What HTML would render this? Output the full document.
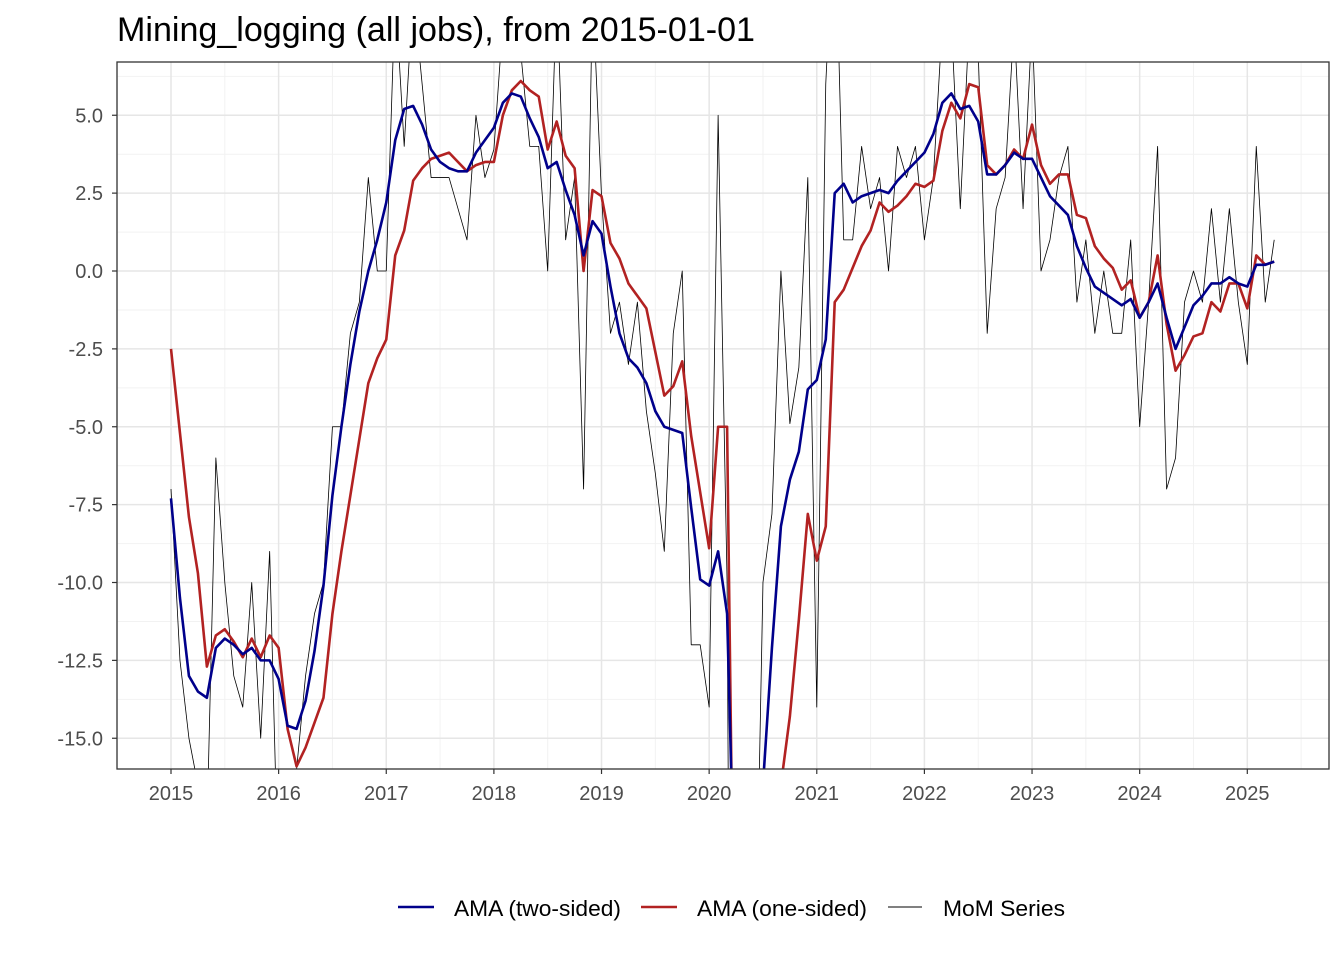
<!DOCTYPE html>
<html><head><meta charset="utf-8"><style>
html,body{margin:0;padding:0;background:#fff;width:1344px;height:960px;overflow:hidden;position:relative;}
svg{display:block;position:absolute;left:0;top:0;font-family:"Liberation Sans",Arial,sans-serif;}
</style></head><body>
<svg id="chart" width="1344" height="960" viewBox="0 0 1344 960">
<defs><clipPath id="panelClip"><rect x="117" y="62" width="1212" height="707"/></clipPath></defs>
<rect x="0" y="0" width="1344" height="960" fill="#fff"/>
<text x="117" y="41" font-size="34" textLength="638" lengthAdjust="spacingAndGlyphs" fill="#000">Mining_logging (all jobs), from 2015-01-01</text>
<g id="grid"></g>
<g id="series" clip-path="url(#panelClip)"></g>
<rect x="117" y="62" width="1212" height="707" fill="none" stroke="#333" stroke-width="1.3"/>
<g id="axes"></g>
<g>
  <line x1="398" y1="907" x2="434" y2="907" stroke="#00008B" stroke-width="2.5"/>
  <text x="454" y="916" font-size="22" textLength="167" lengthAdjust="spacingAndGlyphs" fill="#000">AMA (two-sided)</text>
  <line x1="641" y1="907" x2="677" y2="907" stroke="#B22222" stroke-width="2.5"/>
  <text x="697" y="916" font-size="22" textLength="170" lengthAdjust="spacingAndGlyphs" fill="#000">AMA (one-sided)</text>
  <line x1="888" y1="907" x2="922" y2="907" stroke="#000" stroke-width="1"/>
  <text x="943" y="916" font-size="22" textLength="122" lengthAdjust="spacingAndGlyphs" fill="#000">MoM Series</text>
</g>
</svg>
<script>
const yTicks = [5.0, 2.5, 0.0, -2.5, -5.0, -7.5, -10.0, -12.5, -15.0];
const yTickLabels = ["5.0", "2.5", "0.0", "-2.5", "-5.0", "-7.5", "-10.0", "-12.5", "-15.0"];
const xYears = [2015, 2016, 2017, 2018, 2019, 2020, 2021, 2022, 2023, 2024, 2025];
const startYear = 2015;
const twoSided = [
 -7.3,-10.5,-13.0,-13.5,-13.7,-12.1,-11.8,-12.0,-12.3,-12.1,-12.5,-12.5,
 -13.1,-14.6,-14.7,-13.8,-12.2,-10.1,-7.2,-5.0,-3.0,-1.3,0.0,1.0,
 2.2,4.2,5.2,5.3,4.7,3.9,3.5,3.3,3.2,3.2,3.8,4.2,
 4.6,5.4,5.7,5.6,4.9,4.3,3.3,3.5,2.6,1.8,0.5,1.6,
 1.2,-0.5,-2.0,-2.8,-3.1,-3.6,-4.5,-5.0,-5.1,-5.2,-7.6,-9.9,
 -10.1,-9.0,-11.0,-22,-25,-22,-16.5,-12.1,-8.2,-6.7,-5.8,-3.8,
 -3.5,-2.2,2.5,2.8,2.2,2.4,2.5,2.6,2.5,2.9,3.2,3.5,
 3.8,4.4,5.4,5.7,5.2,5.3,4.8,3.1,3.1,3.4,3.8,3.6,
 3.6,3.0,2.4,2.1,1.8,0.8,0.1,-0.5,-0.7,-0.9,-1.1,-0.9,
 -1.5,-1.0,-0.4,-1.5,-2.5,-1.8,-1.1,-0.8,-0.4,-0.4,-0.2,-0.4,
 -0.5,0.2,0.2,0.3];
const oneSided = [
 -2.5,-5.2,-7.9,-9.7,-12.7,-11.7,-11.5,-11.9,-12.4,-11.8,-12.4,-11.7,
 -12.1,-14.7,-15.9,-15.3,-14.5,-13.7,-11.0,-9.0,-7.2,-5.4,-3.6,-2.8,
 -2.2,0.5,1.3,2.9,3.3,3.6,3.7,3.8,3.5,3.2,3.4,3.5,
 3.5,5.0,5.8,6.1,5.8,5.6,3.9,4.8,3.7,3.3,0.0,2.6,
 2.4,0.9,0.4,-0.4,-0.8,-1.2,-2.6,-4.0,-3.7,-2.9,-5.3,-7.1,
 -8.9,-5.0,-5.0,-28,-30,-28,-25,-21,-16.5,-14.3,-11.2,-7.8,
 -9.3,-8.2,-1.0,-0.6,0.1,0.8,1.3,2.2,1.9,2.1,2.4,2.8,
 2.7,2.9,4.5,5.4,4.9,6.0,5.9,3.4,3.1,3.4,3.9,3.6,
 4.7,3.4,2.8,3.1,3.1,1.8,1.7,0.8,0.4,0.1,-0.6,-0.3,
 -1.5,-1.0,0.5,-1.7,-3.2,-2.7,-2.1,-2.0,-1.0,-1.3,-0.4,-0.4,
 -1.2,0.5,0.2,0.3];
const momSeries = [
 -7,-12.5,-15,-16.5,-18,-6,-10,-13,-14,-10,-15,-9,
 -20,-18,-16,-13,-11,-10,-5,-5,-2,-1,3,0,
 0,9,4,9,6,3,3,3,2,1,5,3,
 3.9,8,10,7,4,4,0,9,1,3,-7,9,
 2.4,-2,-1,-3,-1,-4.5,-6.5,-9,-2,0,-12,-12,
 -14,5,-10,-60,-40,-25,-10,-7.8,0,-4.9,-3.1,3,
 -14,6,12,1,1,4,2,3,0,4,3,4,
 1,3,8,8,2,8,7,-2,2,3,8,2,
 8,0,1,3,4,-1,1,-2,0,-2,-2,1,
 -5,-1,4,-7,-6,-1,0,-1,2,-1,2,-1,
 -3,4,-1,1];

const X0 = 171, PX_PER_YEAR = 107.63;
function xScale(t){ return X0 + (t - startYear) * PX_PER_YEAR; }
function yScale(v){ return 271 - v * 31.15; }
function monthT(i){ return startYear + i / 12; }

const NS = "http://www.w3.org/2000/svg";
const grid = document.getElementById('grid');
const axes = document.getElementById('axes');
const series = document.getElementById('series');
function mk(tag, attrs, parent){ const e = document.createElementNS(NS, tag); for (const k in attrs) e.setAttribute(k, attrs[k]); parent.appendChild(e); return e; }

for (let i = 0; i < yTicks.length - 1; i++) {
  const v = (yTicks[i] + yTicks[i+1]) / 2;
  const l = mk('line', {x1:117, x2:1329, y1:yScale(v), y2:yScale(v), stroke:'#f2f2f2', 'stroke-width':1}, grid);
  
  
}
const topMinor = mk('line', {x1:117, x2:1329, y1:yScale(6.25), y2:yScale(6.25), stroke:'#f2f2f2', 'stroke-width':1}, grid);


for (let i = -1; i < xYears.length; i++) {
  const t = (i < 0 ? xYears[0] - 1 : xYears[i]) + 0.5;
  const l = mk('line', {x1:xScale(t), x2:xScale(t), y1:62, y2:769, stroke:'#f2f2f2', 'stroke-width':1}, grid);
  
  
}
yTicks.forEach((v, i) => {
  const y = yScale(v);
  const l = mk('line', {x1:117, x2:1329, y1:y, y2:y, stroke:'#e6e6e6', 'stroke-width':1.5}, grid);
  
  
  const tk = mk('line', {x1:112, x2:117, y1:y, y2:y, stroke:'#333', 'stroke-width':1.2}, axes);
  
  
  const tx = mk('text', {x:103, y:y+7, 'font-size':20, fill:'#4d4d4d', 'text-anchor':'end'}, axes);
  tx.textContent = yTickLabels[i];
  
  
});
xYears.forEach(yr => {
  const x = xScale(yr);
  const l = mk('line', {x1:x, x2:x, y1:62, y2:769, stroke:'#e6e6e6', 'stroke-width':1.5}, grid);
  
  
  const tk = mk('line', {x1:x, x2:x, y1:769, y2:774, stroke:'#333', 'stroke-width':1.2}, axes);
  
  
  const tx = mk('text', {x:x, y:800, 'font-size':20, fill:'#4d4d4d', 'text-anchor':'middle'}, axes);
  tx.textContent = String(yr);
  
  
});

// Build path, geometrically clipping each segment to the vertical band of the panel
const YMIN = 58, YMAX = 773;
function clipSeg(x1, y1, x2, y2){
  let t0 = 0, t1 = 1; const dy = y2 - y1;
  if (dy === 0) { if (y1 < YMIN || y1 > YMAX) return null; }
  else {
    let ta = (YMIN - y1) / dy, tb = (YMAX - y1) / dy;
    if (ta > tb) { const s = ta; ta = tb; tb = s; }
    t0 = Math.max(t0, ta); t1 = Math.min(t1, tb);
    if (t0 > t1) return null;
  }
  return [x1 + (x2-x1)*t0, y1 + dy*t0, x1 + (x2-x1)*t1, y1 + dy*t1];
}
function pathFor(arr){
  let d = '', lastX = null, lastY = null;
  for (let i = 1; i < arr.length; i++) {
    const s = clipSeg(xScale(monthT(i-1)), yScale(arr[i-1]), xScale(monthT(i)), yScale(arr[i]));
    if (!s) continue;
    if (lastX === null || Math.abs(lastX - s[0]) > 0.01 || Math.abs(lastY - s[1]) > 0.01) d += 'M' + s[0].toFixed(2) + ',' + s[1].toFixed(2);
    d += 'L' + s[2].toFixed(2) + ',' + s[3].toFixed(2);
    lastX = s[2]; lastY = s[3];
  }
  return d;
}
const pm = mk('path', {d:pathFor(momSeries), fill:'none', stroke:'#000', 'stroke-width':0.8, 'stroke-linejoin':'round'}, series);


const p1 = mk('path', {d:pathFor(oneSided), fill:'none', stroke:'#B22222', 'stroke-width':2.6, 'stroke-linejoin':'round'}, series);


const p2 = mk('path', {d:pathFor(twoSided), fill:'none', stroke:'#00008B', 'stroke-width':2.6, 'stroke-linejoin':'round'}, series);


</script>
</body></html>
